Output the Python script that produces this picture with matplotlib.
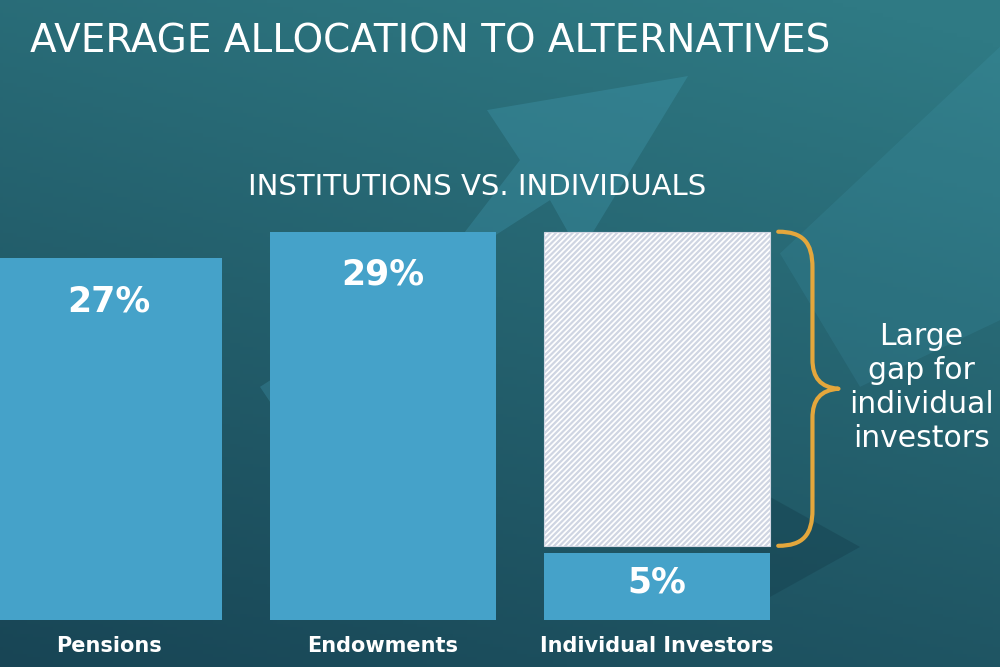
import matplotlib
matplotlib.use('Agg')
import matplotlib.pyplot as plt
import numpy as np
from matplotlib.path import Path
from matplotlib.patches import PathPatch, Polygon

plt.rcParams['font.family'] = ['DejaVu Sans']
plt.rcParams['hatch.linewidth'] = 1.6
plt.rcParams['hatch.color'] = '#cfd5e2'

categories = ['Pensions', 'Endowments', 'Individual Investors']
values = [27, 29, 5]
value_labels = ['27%', '29%', '5%']
gap_note = 'Large\ngap for\nindividual\ninvestors'

BAR = '#45a2c9'
BRACE = '#e4a73c'

fig = plt.figure(figsize=(10, 6.67), dpi=100)
ax = fig.add_axes([0, 0, 1, 1])

# background gradient
h, w = 200, 300
yy, xx = np.mgrid[0:1:h * 1j, 0:1:w * 1j]
top = np.array([0x2f, 0x7a, 0x84]) / 255
bot = np.array([0x18, 0x45, 0x55]) / 255
mix = np.clip(yy * 0.75 + (1 - xx) * 0.3 - 0.05, 0, 1)[..., None]
img = top * (1 - mix) + bot * mix
ax.imshow(img, extent=[0, 1, 0, 1], transform=ax.transAxes, aspect='auto', zorder=0)

# faint decorative arrows
for pts, col, a in [([(0.487, 0.835), (0.688, 0.886), (0.58, 0.62), (0.55, 0.70), (0.26, 0.42), (0.30, 0.33), (0.52, 0.76)], '#4fb3cf', 0.22),
                    ([(0.78, 0.62), (1.0, 0.93), (1.0, 0.52), (0.86, 0.42)], '#4fb3cf', 0.12),
                    ([(0.74, 0.28), (0.86, 0.18), (0.74, 0.08)], '#123a48', 0.35)]:
    ax.add_patch(Polygon(pts, closed=True, transform=ax.transAxes, color=col, alpha=a, lw=0, zorder=0.5))

x = np.arange(len(categories))
width = 0.825
ax.bar(x, values, width=width, color=BAR, zorder=2)

# gap bar for individual investors up to the endowments level
top_val = max(values[:2])
gap_bottom = values[2] + 0.55
ax.bar(x[2], top_val - gap_bottom, bottom=gap_bottom, width=width, color='white',
       edgecolor='#cfd5e2', hatch='//////', linewidth=0.8, zorder=2)

for xi, v, lab in zip(x, values, value_labels):
    ly = v - 3.2 if v > 10 else v / 2 + 0.3
    ax.text(xi, ly, lab, ha='center', va='center', color='white',
            fontsize=25, fontweight='bold', zorder=3)

for xi, c in zip(x, categories):
    ax.text(xi, -1.9, c, ha='center', va='center', color='white',
            fontsize=15, fontweight='bold', zorder=3)

# curly brace
x0 = x[2] + width / 2 + 0.03
xv = x0 + 0.125
xt = x0 + 0.22
y0, y1 = gap_bottom, top_val
ym = (y0 + y1) / 2
verts = [(x0, y1), (x0 + 0.09, y1), (xv, y1 - 0.8), (xv, y1 - 2.7),
         (xv, ym + 2.2), (xv, ym + 0.8), (xv + 0.03, ym + 0.1), (xt, ym),
         (xv + 0.03, ym - 0.1), (xv, ym - 0.8), (xv, ym - 2.2),
         (xv, y0 + 2.7), (xv, y0 + 0.8), (x0 + 0.09, y0), (x0, y0)]
codes = [Path.MOVETO, Path.CURVE4, Path.CURVE4, Path.CURVE4,
         Path.LINETO, Path.CURVE4, Path.CURVE4, Path.CURVE4,
         Path.CURVE4, Path.CURVE4, Path.CURVE4,
         Path.LINETO, Path.CURVE4, Path.CURVE4, Path.CURVE4]
ax.add_patch(PathPatch(Path(verts, codes), fill=False, edgecolor=BRACE, lw=3,
                       capstyle='round', joinstyle='round', zorder=3))

ax.text(x[2] + 0.965, ym + 0.1, gap_note, ha='center', va='center', color='white',
        fontsize=21.5, linespacing=1.22, zorder=3)

fig.text(0.03, 0.938, 'AVERAGE ALLOCATION TO ALTERNATIVES', ha='left', va='center',
         color='white', fontsize=28)
fig.text(0.477, 0.72, 'INSTITUTIONS VS. INDIVIDUALS', ha='center', va='center',
         color='white', fontsize=21)

ax.set_xlim(-0.398, 3.252)
ax.set_ylim(-3.5, 46.3)
ax.axis('off')

plt.savefig('out.png', dpi=100)
